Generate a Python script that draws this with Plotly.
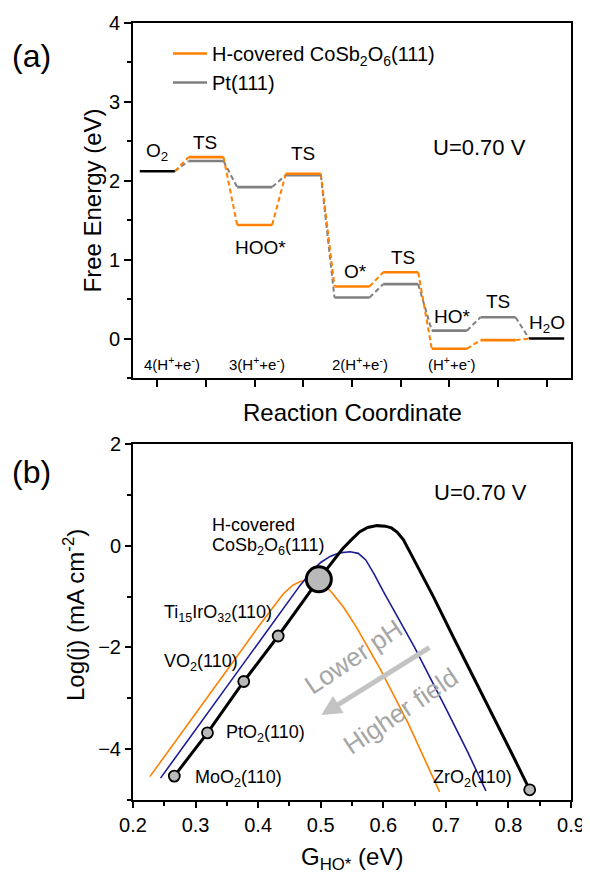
import plotly.graph_objects as go

FONT = "Arial, 'Liberation Sans', Helvetica, sans-serif"

# ---------------- Panel (a) data: free-energy diagram ----------------
step_pos = [1, 2, 3, 4, 5, 6, 7, 8, 9]
step_labels = ["O<sub>2</sub>", "TS", "HOO*", "TS", "O*", "TS", "HO*", "TS", "H<sub>2</sub>O"]
energy_cosb = [2.12, 2.30, 1.44, 2.09, 0.66, 0.84, -0.13, -0.02, 0.00]
energy_pt = [2.12, 2.25, 1.92, 2.07, 0.52, 0.69, 0.10, 0.27, 0.00]
proton_labels = ["4(H<sup>+</sup>+e<sup>-</sup>)", "3(H<sup>+</sup>+e<sup>-</sup>)",
                 "2(H<sup>+</sup>+e<sup>-</sup>)", "(H<sup>+</sup>+e<sup>-</sup>)"]
proton_pos = [1.31, 3.05, 5.16, 7.05]

# ---------------- Panel (b) data: activity volcano ----------------
black_g = [0.266, 0.319, 0.377, 0.432, 0.497, 0.52, 0.535, 0.55, 0.562, 0.575, 0.59,
           0.603, 0.613, 0.622, 0.632, 0.645, 0.68, 0.712, 0.755, 0.808, 0.834]
black_j = [-4.53, -3.68, -2.67, -1.775, -0.66, -0.29, -0.06, 0.13, 0.27, 0.36, 0.395,
           0.385, 0.35, 0.27, 0.12, -0.18, -1.0, -1.8, -2.84, -4.15, -4.80]
blue_g = [0.244, 0.30, 0.36, 0.42, 0.467, 0.485, 0.50, 0.515, 0.53, 0.547, 0.56, 0.572,
          0.585, 0.60, 0.625, 0.65, 0.70, 0.735, 0.764]
blue_j = [-4.57, -3.62, -2.60, -1.57, -0.78, -0.51, -0.33, -0.21, -0.14, -0.12, -0.15,
          -0.28, -0.55, -0.90, -1.45, -2.0, -3.2, -4.06, -4.82]
orange_g = [0.227, 0.28, 0.34, 0.40, 0.44, 0.455, 0.468, 0.48, 0.49, 0.50, 0.515, 0.536,
            0.557, 0.576, 0.595, 0.64, 0.69]
orange_j = [-4.54, -3.64, -2.62, -1.60, -0.95, -0.78, -0.70, -0.68, -0.70, -0.75, -0.88,
            -1.2, -1.60, -2.0, -2.42, -3.50, -4.84]

materials = ["MoO<sub>2</sub>(110)", "PtO<sub>2</sub>(110)", "VO<sub>2</sub>(110)",
             "Ti<sub>15</sub>IrO<sub>32</sub>(110)", "ZrO<sub>2</sub>(110)"]
mat_g = [0.266, 0.319, 0.377, 0.432, 0.834]
mat_j = [-4.53, -3.68, -2.67, -1.775, -4.80]
cosb_g = [0.497]
cosb_j = [-0.66]

ORANGE = "#ff8000"
GREY = "#808080"
BLUE = "#1c1c96"
MFILL = "#b9b9b9"

HW = 0.36  # half width of an energy level

# The page body has an 8 px margin, so the figure is sized/positioned to compensate.
OFF = 8
W, H = 590 - OFF, 873 - OFF


def px(x):
    return (x - OFF) / W


def py(y):
    return 1 - (y - OFF) / H


def levels(idx, E):
    xs, ys = [], []
    for i in idx:
        xs += [step_pos[i] - HW, step_pos[i] + HW, None]
        ys += [E[i], E[i], None]
    return xs, ys


def connectors(E):
    xs, ys = [], []
    for i in range(len(E) - 1):
        xs += [step_pos[i] + HW, step_pos[i + 1] - HW, None]
        ys += [E[i], E[i + 1], None]
    return xs, ys


fig = go.Figure()

mid = list(range(1, 8))
for E, col in ((energy_pt, GREY), (energy_cosb, ORANGE)):
    cx, cy = connectors(E)
    fig.add_trace(go.Scatter(x=cx, y=cy, mode="lines", xaxis="x", yaxis="y",
                             line=dict(color=col, width=2, dash="5px,3px"),
                             showlegend=False, hoverinfo="skip"))
lx, ly = levels(mid, energy_pt)
fig.add_trace(go.Scatter(x=lx, y=ly, mode="lines", xaxis="x", yaxis="y",
                         line=dict(color=GREY, width=2.6), name="Pt(111)", legendrank=2))
lx, ly = levels(mid, energy_cosb)
fig.add_trace(go.Scatter(x=lx, y=ly, mode="lines", xaxis="x", yaxis="y",
                         line=dict(color=ORANGE, width=2.6),
                         name="H-covered CoSb<sub>2</sub>O<sub>6</sub>(111)", legendrank=1))
lx, ly = levels([0, 8], energy_cosb)
fig.add_trace(go.Scatter(x=lx, y=ly, mode="lines", xaxis="x", yaxis="y",
                         line=dict(color="black", width=2.6), showlegend=False))

# panel (b) curves
fig.add_trace(go.Scatter(x=orange_g, y=orange_j, mode="lines", xaxis="x2", yaxis="y2",
                         line=dict(color=ORANGE, width=1.6), showlegend=False))
fig.add_trace(go.Scatter(x=blue_g, y=blue_j, mode="lines", xaxis="x2", yaxis="y2",
                         line=dict(color=BLUE, width=1.6), showlegend=False))
fig.add_trace(go.Scatter(x=black_g, y=black_j, mode="lines", xaxis="x2", yaxis="y2",
                         line=dict(color="black", width=3), showlegend=False))
fig.add_trace(go.Scatter(x=mat_g, y=mat_j, mode="markers", xaxis="x2", yaxis="y2",
                         marker=dict(size=11, color=MFILL, line=dict(color="black", width=1.8)),
                         showlegend=False))
fig.add_trace(go.Scatter(x=cosb_g, y=cosb_j, mode="markers", xaxis="x2", yaxis="y2",
                         marker=dict(size=25, color=MFILL, line=dict(color="black", width=3)),
                         showlegend=False))

C = dict(xanchor="center", yanchor="middle", showarrow=False)
ann = []
# panel (a) state labels
label_xy = [(0.99, 2.37), (1.98, 2.48), (3.12, 1.16), (4.0, 2.35), (5.08, 0.85),
            (6.04, 1.03), (7.07, 0.28), (7.99, 0.47), (9.01, 0.19)]
for t, (x, y) in zip(step_labels, label_xy):
    ann.append(dict(x=x, y=y, xref="x", yref="y", text=t, font=dict(size=19, color="black"), **C))
for t, x in zip(proton_labels, proton_pos):
    ann.append(dict(x=x, y=-0.31, xref="x", yref="y", text=t,
                    font=dict(size=15, color="black"), **C))
ann.append(dict(x=7.63, y=2.42, xref="x", yref="y", text="U=0.70 V",
                font=dict(size=22, color="black"), **C))

# panel (b) labels
b_labels = [("H-covered", 0.323, 0.41), ("CoSb<sub>2</sub>O<sub>6</sub>(111)", 0.323, -0.02),
            (materials[3], 0.246, -1.33), (materials[2], 0.246, -2.30),
            (materials[1], 0.345, -3.69), (materials[0], 0.296, -4.57),
            (materials[4], 0.677, -4.57)]
for t, x, y in b_labels:
    ann.append(dict(x=x, y=y, xref="x2", yref="y2", text=t, showarrow=False, xanchor="left",
                    yanchor="middle", font=dict(size=18, color="black")))
ann.append(dict(x=0.755, y=1.04, xref="x2", yref="y2", text="U=0.70 V",
                font=dict(size=22, color="black"), **C))
ann.append(dict(x=0.552, y=-2.19, xref="x2", yref="y2", text="Lower pH",
                textangle=-34, font=dict(size=26, color="#a6a6a6"), **C))
ann.append(dict(x=0.628, y=-3.25, xref="x2", yref="y2", text="Higher field",
                textangle=-34, font=dict(size=26, color="#a6a6a6"), **C))
ann.append(dict(x=0.501, y=-3.33, ax=0.676, ay=-1.985, xref="x2", yref="y2",
                axref="x2", ayref="y2", text="", showarrow=True, arrowhead=2,
                arrowsize=0.8, arrowwidth=5, arrowcolor="#c3c3c3"))

# panel letters and axis titles
ann += [
    dict(x=px(31), y=py(56), xref="paper", yref="paper", text="(a)",
         font=dict(size=32, color="black"), **C),
    dict(x=px(31), y=py(472), xref="paper", yref="paper", text="(b)",
         font=dict(size=32, color="black"), **C),
    dict(x=px(92), y=py(200.5), xref="paper", yref="paper", text="Free Energy (eV)",
         textangle=-90, font=dict(size=24, color="black"), **C),
    dict(x=px(352), y=py(412), xref="paper", yref="paper", text="Reaction Coordinate",
         font=dict(size=24, color="black"), **C),
    dict(x=px(74), y=py(615), xref="paper", yref="paper",
         text="Log(j) (mA cm<sup>-2</sup>)", textangle=-90,
         font=dict(size=24, color="black"), **C),
    dict(x=px(352), y=py(858), xref="paper", yref="paper",
         text="G<sub>HO*</sub> (eV)", font=dict(size=24, color="black"), **C),
]

axis_common = dict(showline=True, linecolor="black", linewidth=2, mirror=True,
                   showgrid=False, zeroline=False, ticks="outside", tickcolor="black",
                   tickwidth=2, tickfont=dict(size=20, color="black"), automargin=False)

fig.update_layout(
    width=W, height=H,
    margin=dict(l=0, r=0, t=0, b=0, pad=0, autoexpand=False),
    paper_bgcolor="white", plot_bgcolor="white",
    font=dict(family=FONT, color="black"),
    showlegend=True,
    legend=dict(x=px(168), y=py(34), xanchor="left", yanchor="top", bgcolor="rgba(0,0,0,0)",
                font=dict(size=20, color="black"), itemwidth=34),
    xaxis=dict(domain=[px(133), px(571)], anchor="y", range=[0.5, 9.5],
               tickmode="array", tickvals=step_pos, showticklabels=False, ticklen=7,
               **axis_common),
    yaxis=dict(domain=[py(378), py(23)], anchor="x", range=[-0.5, 4],
               tickmode="linear", tick0=0, dtick=1, ticklen=7,
               minor=dict(ticks="outside", dtick=0.5, ticklen=4, tickcolor="black", tickwidth=2),
               **axis_common),
    xaxis2=dict(domain=[px(133), px(571)], anchor="y2", range=[0.2, 0.9],
                tickmode="linear", tick0=0.2, dtick=0.1, ticklen=6, tickformat=".1f",
                minor=dict(ticks="outside", dtick=0.05, ticklen=4, tickcolor="black", tickwidth=2),
                **axis_common),
    yaxis2=dict(domain=[py(800), py(444)], anchor="x2", range=[-5, 2],
                tickmode="array", tickvals=[-4, -2, 0, 2], ticklen=6,
                minor=dict(ticks="outside", tickvals=[-5, -3, -1, 1], ticklen=4,
                           tickcolor="black", tickwidth=2),
                **axis_common),
    annotations=ann,
)

fig.write_html("out.html")
